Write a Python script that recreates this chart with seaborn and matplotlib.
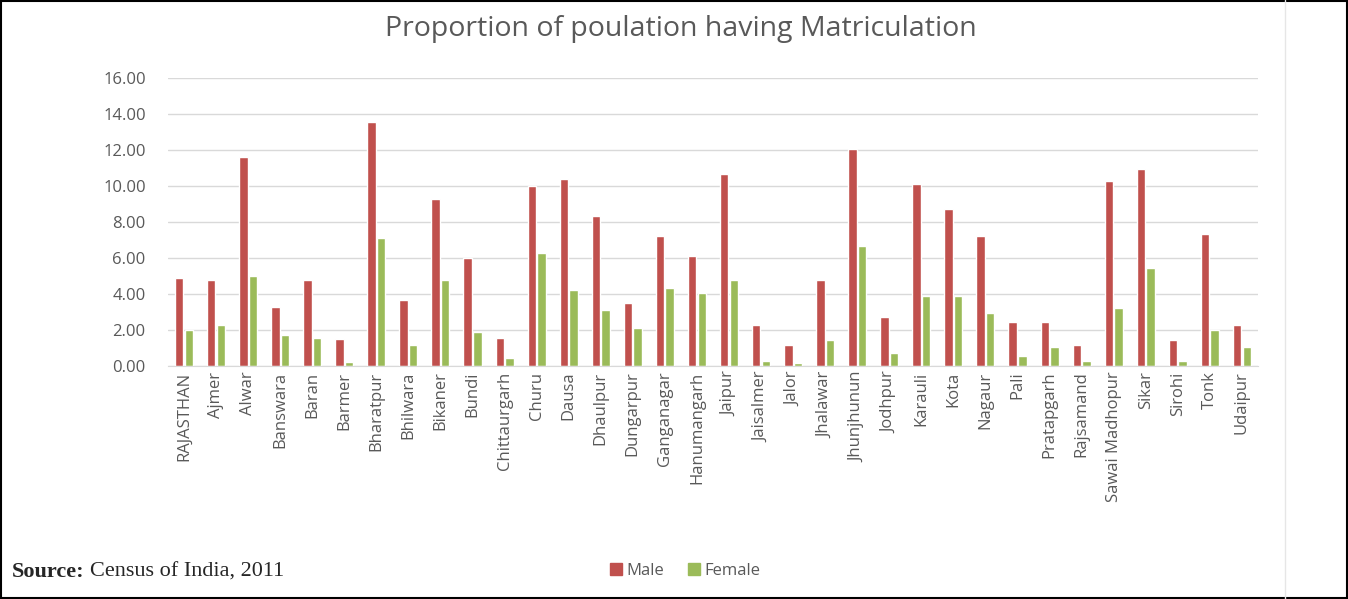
import numpy as np
import pandas as pd
import seaborn as sns
import matplotlib.pyplot as plt
from matplotlib.patches import Rectangle
from matplotlib.ticker import FormatStrFormatter

# District names as on the x axis
districts = ['RAJASTHAN', 'Ajmer', 'Alwar', 'Banswara', 'Baran', 'Barmer', 'Bharatpur',
             'Bhilwara', 'Bikaner', 'Bundi', 'Chittaurgarh', 'Churu', 'Dausa', 'Dhaulpur',
             'Dungarpur', 'Ganganagar', 'Hanumangarh', 'Jaipur', 'Jaisalmer', 'Jalor',
             'Jhalawar', 'Jhunjhunun', 'Jodhpur', 'Karauli', 'Kota', 'Nagaur', 'Pali',
             'Pratapgarh', 'Rajsamand', 'Sawai Madhopur', 'Sikar', 'Sirohi', 'Tonk', 'Udaipur']

# Proportion having matriculation
male = [4.90, 4.78, 11.63, 3.25, 4.78, 1.48, 13.56, 3.65, 9.30, 6.00, 1.58, 9.98,
        10.40, 8.32, 3.50, 7.22, 6.12, 10.66, 2.28, 1.18, 4.78, 12.05, 2.70, 10.12,
        8.73, 7.22, 2.42, 2.45, 1.18, 10.25, 10.96, 1.45, 7.35, 2.30]
female = [2.02, 2.30, 5.02, 1.72, 1.58, 0.20, 7.08, 1.16, 4.76, 1.88, 0.45, 6.27,
          4.20, 3.10, 2.12, 4.32, 4.06, 4.78, 0.30, 0.15, 1.45, 6.68, 0.72, 3.90,
          3.90, 2.95, 0.58, 1.04, 0.30, 3.22, 5.42, 0.30, 1.98, 1.04]

df = pd.DataFrame({'District': districts * 2,
                   'Sex': ['Male'] * len(districts) + ['Female'] * len(districts),
                   'Value': male + female})

colors = {'Male': '#C0504D', 'Female': '#9BBB59'}
grey = '#595959'

sns.set_style('white')
plt.rcParams['font.family'] = ['Open Sans', 'DejaVu Sans']

fig = plt.figure(figsize=(13.48, 5.99), dpi=100)
ax = fig.add_axes([0.1246, 0.389, 0.8086, 0.481])

sns.barplot(data=df, x='District', y='Value', hue='Sex', palette=colors,
            width=0.6, gap=0.12, saturation=1, ax=ax, legend=False)

ax.set_ylim(0, 16)
ax.set_yticks(np.arange(0, 16.1, 2))
ax.yaxis.set_major_formatter(FormatStrFormatter('%.2f'))
ax.set_xlim(-0.5, len(districts) - 0.5)
ax.set_xlabel('')
ax.set_ylabel('')
ax.grid(axis='y', color='#D9D9D9', linewidth=1)
ax.set_axisbelow(True)
for s in ['top', 'right', 'left']:
    ax.spines[s].set_visible(False)
ax.spines['bottom'].set_color('#D9D9D9')
ax.tick_params(axis='y', labelsize=12, colors=grey, length=0, pad=16)
ax.tick_params(axis='x', labelsize=12, colors=grey, length=0, labelrotation=90, pad=4)

fig.text(0.505, 0.951, 'Proportion of poulation having Matriculation', ha='center',
         va='center', fontsize=20.5, color=grey)

# legend at the bottom
handles = [plt.Line2D([], [], marker='s', linestyle='', markersize=8,
                      color=colors[k]) for k in ['Male', 'Female']]
fig.legend(handles, ['Male', 'Female'], loc='center', bbox_to_anchor=(0.508, 0.047),
           ncol=2, frameon=False, fontsize=12, labelcolor=grey, handletextpad=0.2,
           handlelength=0.8, columnspacing=1.4)

fig.text(0.009, 0.045, 'Source:', fontsize=16, fontweight='bold',
         family='Liberation Serif', va='center')
fig.text(0.067, 0.045, 'Census of India, 2011', fontsize=16,
         family='Liberation Serif', va='center')

# outer frame and inner chart border
fig.patches.append(Rectangle((0.001, 0.002), 0.998, 0.996, transform=fig.transFigure,
                             fill=False, edgecolor='black', linewidth=1.5))
fig.lines.append(plt.Line2D([0.953, 0.953], [0.0, 1.0], transform=fig.transFigure,
                            color='#E6E6E6', linewidth=1))

fig.savefig('out.png', dpi=100)
